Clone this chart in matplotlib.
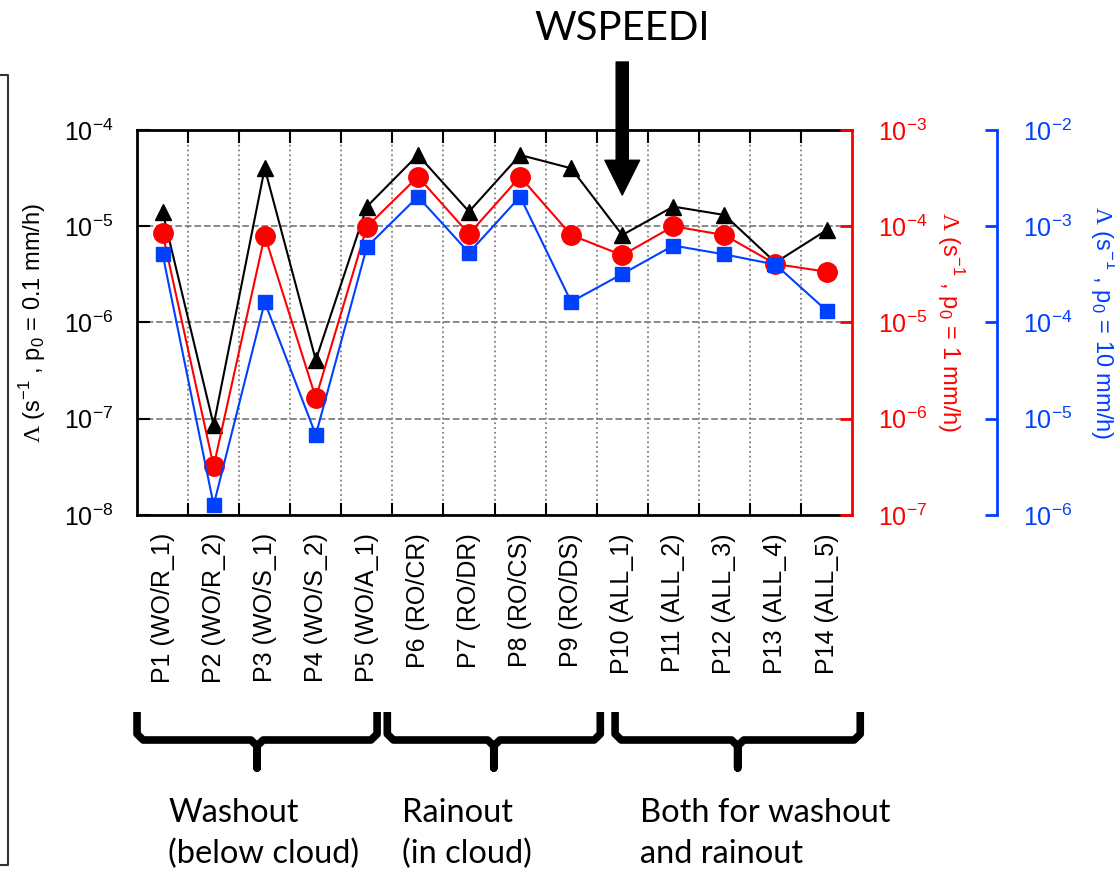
import matplotlib
matplotlib.use("Agg")
import numpy as np
import matplotlib.pyplot as plt
from matplotlib.lines import Line2D
from matplotlib.ticker import NullLocator, FixedLocator
from matplotlib.transforms import blended_transform_factory, IdentityTransform

plt.rcParams['font.family'] = ['Liberation Sans', 'DejaVu Sans']
plt.rcParams['mathtext.fontset'] = 'custom'
plt.rcParams['mathtext.rm'] = 'Liberation Serif'
plt.rcParams['mathtext.sf'] = 'Liberation Sans'
plt.rcParams['axes.unicode_minus'] = False

# data
cases = ['P1 (WO/R_1)', 'P2 (WO/R_2)', 'P3 (WO/S_1)', 'P4 (WO/S_2)', 'P5 (WO/A_1)',
         'P6 (RO/CR)', 'P7 (RO/DR)', 'P8 (RO/CS)', 'P9 (RO/DS)',
         'P10 (ALL_1)', 'P11 (ALL_2)', 'P12 (ALL_3)', 'P13 (ALL_4)', 'P14 (ALL_5)']
lam_p01 = [1.41e-5, 8.6e-8, 4.0e-5, 4.07e-7, 1.6e-5, 5.5e-5, 1.42e-5,
           5.5e-5, 4.0e-5, 8.1e-6, 1.6e-5, 1.31e-5, 4.2e-6, 9.1e-6]
lam_p1 = [8.45e-5, 3.2e-7, 8.0e-5, 1.64e-6, 9.9e-5, 3.27e-4, 8.3e-5,
          3.27e-4, 8.1e-5, 5.0e-5, 1.0e-4, 8.1e-5, 4.05e-5, 3.37e-5]
lam_p10 = [5.15e-4, 1.27e-6, 1.63e-4, 6.8e-6, 6.1e-4, 2.03e-3, 5.3e-4,
           2.03e-3, 1.64e-4, 3.19e-4, 6.3e-4, 5.1e-4, 4.0e-4, 1.33e-4]
group_names = ['Washout\n(below cloud)', 'Rainout\n(in cloud)', 'Both for washout\nand rainout']
brace_spans = [(0.5, 5.2), (5.4, 9.57), (9.86, 14.66)]
group_text_x = [1.11, 5.69, 10.35]
highlight = 10  # WSPEEDI case

RED = '#ff0000'
BLUE = '#0040ff'

x = np.arange(1, len(cases) + 1)

fig = plt.figure(figsize=(11.15, 8.76), dpi=100)
ax = fig.add_axes([0.1229, 0.4121, 0.6413, 0.4395])
ax_r = ax.twinx()
ax_b = ax.twinx()

ax.plot(x, lam_p01, '-^', color='k', lw=1.5, ms=11, clip_on=False)
ax_r.plot(x, lam_p1, '-o', color=RED, lw=1.5, ms=14, clip_on=False)
ax_b.plot(x, lam_p10, '-s', color=BLUE, lw=1.5, ms=10, clip_on=False)

for a in (ax, ax_r, ax_b):
    a.set_yscale('log')
    a.set_xlim(0.5, 14.5)
    a.yaxis.set_minor_locator(NullLocator())
ax.set_ylim(1e-8, 1e-4)
ax_r.set_ylim(1e-7, 1e-3)
ax_b.set_ylim(1e-6, 1e-2)

# x axis: ticks between cases, labels at cases
ax.xaxis.set_major_locator(FixedLocator(np.arange(1.5, 14, 1)))
ax.set_xticklabels([])
ax.set_xticks(x, minor=True)
ax.set_xticklabels(cases, minor=True, rotation=90)
ax.tick_params(axis='x', which='major', direction='in', top=True, length=9, width=1.5)
ax.tick_params(axis='x', which='minor', length=0, pad=13, labelsize=18)
ax.tick_params(axis='y', which='major', direction='in', length=9, width=1.5,
               labelsize=18, pad=17)
ax.grid(axis='x', which='major', ls=':', color='gray', lw=1.3)
ax.grid(axis='y', which='major', ls='--', color='gray', lw=1.3)

for s in ('left', 'top', 'bottom'):
    ax.spines[s].set_linewidth(2)
ax.spines['right'].set_visible(False)

for a, col, pos in ((ax_r, RED, 1.0), (ax_b, BLUE, 1.2028)):
    for s in ('left', 'top', 'bottom'):
        a.spines[s].set_visible(False)
    a.spines['right'].set_position(('axes', pos))
    a.spines['right'].set_color(col)
    a.spines['right'].set_linewidth(2)
    a.tick_params(axis='y', which='major', direction='in', length=9, width=2,
                  colors=col, labelsize=18, pad=19)

ax.text(-0.1455, 0.5, r'$\Lambda$ (s$^{\mathsf{-1}}$ , p$_{\mathsf{0}}$ = 0.1 mm/h)',
        transform=ax.transAxes, rotation=90, ha='center', va='center', fontsize=17)
ax.text(1.137, 0.5, r'$\Lambda$ (s$^{\mathsf{-1}}$ , p$_{\mathsf{0}}$ = 1 mm/h)',
        transform=ax.transAxes, rotation=-90, ha='center', va='center', fontsize=17,
        color=RED)
ax.text(1.352, 0.5, r'$\Lambda$ (s$^{\mathsf{-1}}$ , p$_{\mathsf{0}}$ = 10 mm/h)',
        transform=ax.transAxes, rotation=-90, ha='center', va='center', fontsize=17,
        color=BLUE)

# WSPEEDI arrow
ax.annotate('WSPEEDI', xy=(highlight, 848), xycoords=('data', 'figure pixels'),
            ha='center', va='center', fontsize=29, family='Lato', annotation_clip=False)
ax.annotate('', xy=(highlight, 681), xytext=(highlight, 814),
            xycoords=('data', 'figure pixels'), textcoords=('data', 'figure pixels'),
            annotation_clip=False,
            arrowprops=dict(arrowstyle='simple,head_length=1.0,head_width=1.0,tail_width=0.35',
                            color='k', mutation_scale=25, shrinkA=0, shrinkB=0))

# braces and group names
tr = blended_transform_factory(ax.transData, IdentityTransform())
top, bar, tip = 164, 136, 108
for (x0, x1), name, tx in zip(brace_spans, group_names, group_text_x):
    xc = (x0 + x1) / 2
    bx = [x0, x0, x0 + 0.12, xc - 0.12, xc, xc, xc, xc + 0.12, x1 - 0.12, x1, x1]
    by = [top, bar + 6, bar, bar, bar - 6, tip, bar - 6, bar, bar, bar + 6, top]
    fig.add_artist(Line2D(bx, by, transform=tr, color='k', lw=5.5,
                          solid_joinstyle='round', solid_capstyle='butt'))
    fig.text(tx, 78, name, transform=tr, fontsize=23.5, family='Lato',
             ha='left', va='top', linespacing=1.45)

# edge of neighbouring page in the screenshot
fig.add_artist(Line2D([0, 8, 8, 0], [801, 801, 11, 11], transform=IdentityTransform(),
                      color='#333333', lw=1.5))

fig.savefig('out.png', dpi=100)
